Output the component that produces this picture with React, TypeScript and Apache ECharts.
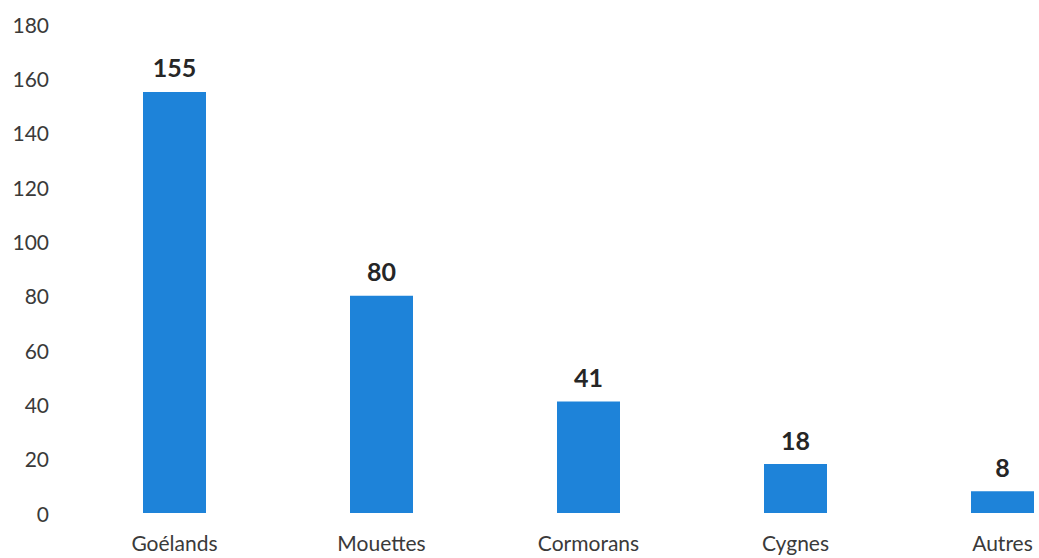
import React, { useEffect, useRef } from "react";
import * as echarts from "echarts";

const categories = ["Goélands", "Mouettes", "Cormorans", "Cygnes", "Autres"];
const values = [155, 80, 41, 18, 8];
const yTicks = { min: 0, max: 180, interval: 20 };

export default function App() {
  const ref = useRef<HTMLDivElement>(null);
  useEffect(() => {
    if (!ref.current) return;
    const chart = echarts.init(ref.current, undefined, { renderer: "svg" });
    chart.setOption({
      animation: false,
      backgroundColor: "#ffffff",
      grid: { left: 71, top: 24, right: 4, bottom: 45 },
      xAxis: {
        type: "category",
        data: categories,
        axisLine: { show: false },
        axisTick: { show: false },
        axisLabel: {
          color: "#3a3a3a",
          fontFamily: "Lato",
          fontSize: 21,
          lineHeight: 21,
          margin: 19,
        },
      },
      yAxis: {
        type: "value",
        min: yTicks.min,
        max: yTicks.max,
        interval: yTicks.interval,
        splitLine: { show: false },
        axisLine: { show: false },
        axisTick: { show: false },
        axisLabel: {
          color: "#3a3a3a",
          fontFamily: "Lato",
          fontSize: 21,
          margin: 22,
        },
      },
      series: [
        {
          type: "bar",
          data: values,
          barWidth: 63,
          itemStyle: { color: "#1e83d9" },
          label: {
            show: true,
            position: "top",
            distance: 12,
            color: "#262626",
            fontFamily: "Lato",
            fontWeight: "bold",
            fontSize: 25,
          },
        },
      ],
    });
    return () => chart.dispose();
  }, []);
  return (
    <div
      ref={ref}
      style={{ position: "fixed", left: 0, top: 0, width: 1110, height: 558 }}
    />
  );
}
